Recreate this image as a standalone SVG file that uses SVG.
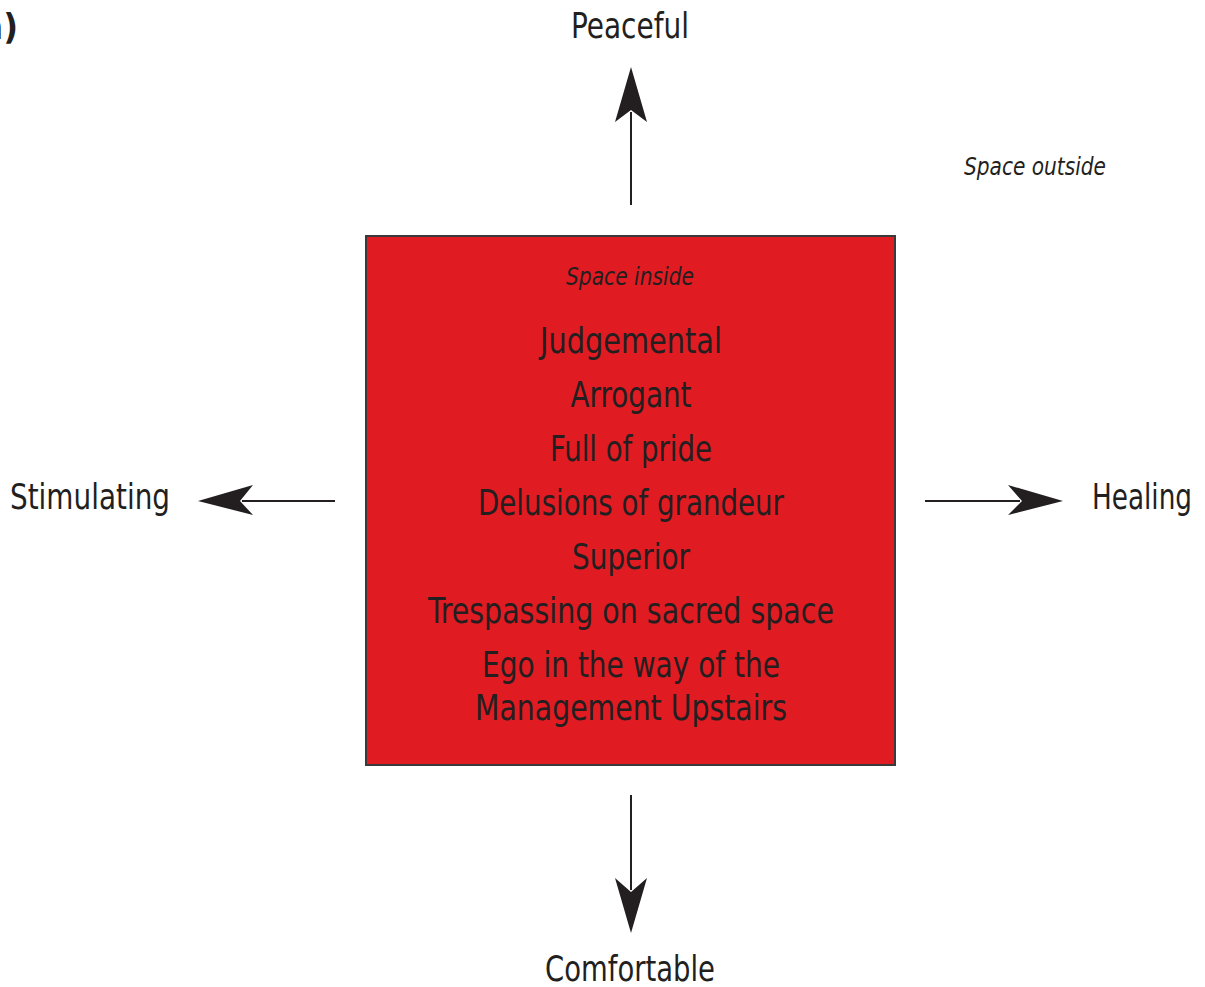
<svg xmlns="http://www.w3.org/2000/svg" width="1205" height="987" viewBox="0 0 1205 987">
  <style>
    text { font-family: "Liberation Sans Narrow", "DejaVu Sans Condensed", "Liberation Sans", sans-serif; fill: #231f20; }
    .lbl { font-size: 36px; text-anchor: middle; }
    .note { font-size: 25px; font-style: italic; text-anchor: middle; }
    .item { font-size: 36px; text-anchor: middle; }
    .shaft { stroke: #231f20; stroke-width: 2; fill: none; }
    .head { fill: #231f20; }
  </style>

  <rect width="1205" height="987" fill="#ffffff"/>

  <!-- panel label -->
  <text x="18" y="39" style="font-size:36px;font-weight:bold;text-anchor:end">a)</text>

  <g id="inside">
    <rect x="366" y="236" width="529" height="529" fill="#e01b22" stroke="#3a3a3a" stroke-width="2"/>
    <text class="note" x="630" y="285" textLength="128" lengthAdjust="spacingAndGlyphs">Space inside</text>
    <text class="item" x="631" y="353" textLength="182" lengthAdjust="spacingAndGlyphs">Judgemental</text>
    <text class="item" x="631" y="407" textLength="121" lengthAdjust="spacingAndGlyphs">Arrogant</text>
    <text class="item" x="631" y="461" textLength="162" lengthAdjust="spacingAndGlyphs">Full of pride</text>
    <text class="item" x="631" y="515" textLength="306" lengthAdjust="spacingAndGlyphs">Delusions of grandeur</text>
    <text class="item" x="631" y="569" textLength="118" lengthAdjust="spacingAndGlyphs">Superior</text>
    <text class="item" x="631" y="623" textLength="406" lengthAdjust="spacingAndGlyphs">Trespassing on sacred space</text>
    <text class="item" x="631" y="677" textLength="298" lengthAdjust="spacingAndGlyphs">Ego in the way of the</text>
    <text class="item" x="631" y="720" textLength="312" lengthAdjust="spacingAndGlyphs">Management Upstairs</text>
  </g>

  <g id="outside">
    <text class="note" x="1035" y="175" textLength="142" lengthAdjust="spacingAndGlyphs">Space outside</text>
  </g>

  <g id="peaceful">
    <text class="lbl" x="630" y="38" textLength="118" lengthAdjust="spacingAndGlyphs">Peaceful</text>
  </g>
  <g id="stimulating">
    <text class="lbl" x="90" y="509" textLength="160" lengthAdjust="spacingAndGlyphs">Stimulating</text>
  </g>
  <g id="healing">
    <text class="lbl" x="1142" y="509" textLength="100" lengthAdjust="spacingAndGlyphs">Healing</text>
  </g>
  <g id="comfortable">
    <text class="lbl" x="630" y="981" textLength="170" lengthAdjust="spacingAndGlyphs">Comfortable</text>
  </g>

  <g id="connectors">
    <!-- up -->
    <line class="shaft" x1="631" y1="205" x2="631" y2="112"/>
    <polygon class="head" points="631,67 647,122 631,110 615,122"/>
    <!-- left -->
    <line class="shaft" x1="335" y1="501" x2="242" y2="501"/>
    <polygon class="head" points="198,501 253,485 240,501 253,515"/>
    <!-- right -->
    <line class="shaft" x1="925" y1="501" x2="1020" y2="501"/>
    <polygon class="head" points="1063,501 1008,485 1022,501 1008,515"/>
    <!-- down -->
    <line class="shaft" x1="631" y1="795" x2="631" y2="890"/>
    <polygon class="head" points="631,933 647,878 631,892 615,878"/>
  </g>
</svg>
